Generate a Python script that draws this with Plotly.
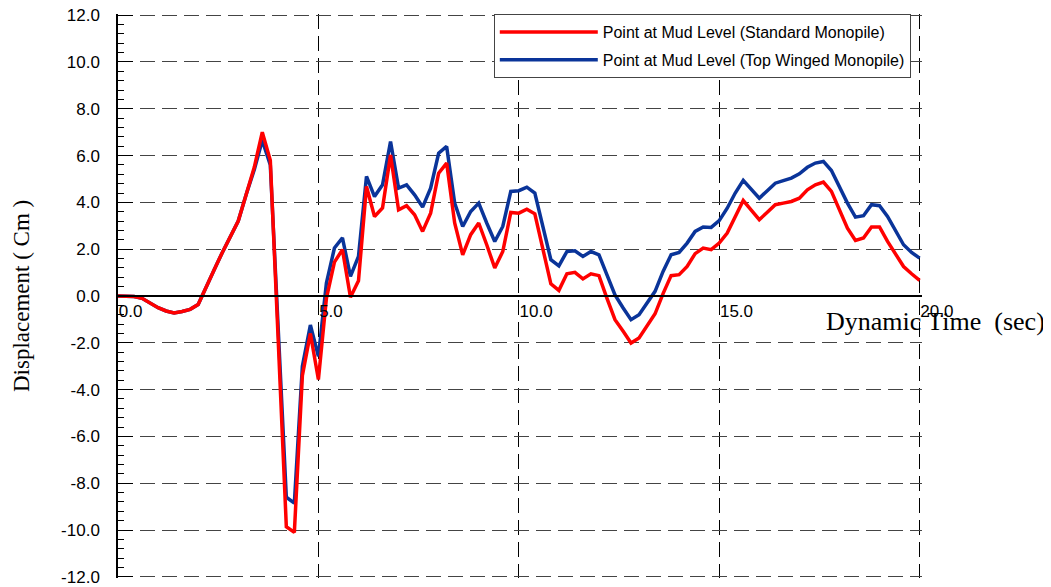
import plotly.graph_objects as go

# ---- data ----
time_s = [0.0, 0.2, 0.4, 0.6, 0.8, 1.0, 1.2, 1.4, 1.6, 1.8,
          2.0, 2.2, 2.4, 2.6, 2.8, 3.0, 3.2, 3.4, 3.6, 3.8,
          4.0, 4.2, 4.4, 4.6, 4.8, 5.0, 5.2, 5.4, 5.6, 5.8,
          6.0, 6.2, 6.4, 6.6, 6.8, 7.0, 7.2, 7.4, 7.6, 7.8,
          8.0, 8.2, 8.4, 8.6, 8.8, 9.0, 9.2, 9.4, 9.6, 9.8,
          10.0, 10.2, 10.4, 10.6, 10.8, 11.0, 11.2, 11.4, 11.6, 11.8,
          12.0, 12.2, 12.4, 12.6, 12.8, 13.0, 13.2, 13.4, 13.6, 13.8,
          14.0, 14.2, 14.4, 14.6, 14.8, 15.0, 15.2, 15.4, 15.6, 15.8,
          16.0, 16.2, 16.4, 16.6, 16.8, 17.0, 17.2, 17.4, 17.6, 17.8,
          18.0, 18.2, 18.4, 18.6, 18.8, 19.0, 19.2, 19.4, 19.6, 19.8,
          20.0]

standard_monopile = [0.00, 0.00, -0.02, -0.10, -0.30, -0.50, -0.64, -0.72, -0.66, -0.57,
                     -0.36, 0.42, 1.12, 1.85, 2.50, 3.20, 4.35, 5.50, 7.00, 5.80,
                     -2.00, -9.86, -10.10, -3.40, -1.60, -3.57, -0.10, 1.45, 1.98, -0.05,
                     0.65, 4.68, 3.40, 3.76, 6.03, 3.68, 3.86, 3.47, 2.76, 3.54,
                     5.25, 5.68, 3.12, 1.76, 2.62, 3.12, 2.19, 1.20, 1.90, 3.57,
                     3.54, 3.71, 3.51, 2.00, 0.52, 0.24, 0.95, 1.01, 0.73, 0.95,
                     0.87, -0.10, -1.01, -1.50, -2.01, -1.79, -1.30, -0.76, 0.10, 0.87,
                     0.91, 1.26, 1.81, 2.05, 1.98, 2.26, 2.69, 3.40, 4.08, 3.67,
                     3.26, 3.58, 3.90, 3.97, 4.04, 4.18, 4.54, 4.75, 4.87, 4.47,
                     3.65, 2.90, 2.37, 2.48, 2.95, 2.95, 2.33, 1.80, 1.26, 0.95,
                     0.67]

top_winged_monopile = [0.00, 0.00, -0.02, -0.10, -0.30, -0.50, -0.64, -0.72, -0.66, -0.57,
                       -0.36, 0.42, 1.12, 1.85, 2.50, 3.20, 4.35, 5.40, 6.65, 5.60,
                       -1.50, -8.60, -8.85, -3.00, -1.24, -2.58, 0.55, 2.05, 2.48, 0.84,
                       1.69, 5.11, 4.25, 4.75, 6.60, 4.61, 4.75, 4.32, 3.80, 4.61,
                       6.10, 6.39, 3.97, 2.97, 3.61, 3.97, 3.12, 2.33, 2.97, 4.47,
                       4.50, 4.65, 4.40, 3.00, 1.55, 1.29, 1.90, 1.93, 1.69, 1.90,
                       1.76, 0.90, 0.05, -0.50, -1.01, -0.80, -0.30, 0.20, 1.05, 1.76,
                       1.86, 2.26, 2.76, 2.95, 2.93, 3.22, 3.75, 4.40, 4.94, 4.56,
                       4.18, 4.50, 4.82, 4.93, 5.04, 5.22, 5.50, 5.68, 5.75, 5.36,
                       4.66, 3.97, 3.37, 3.43, 3.90, 3.86, 3.40, 2.80, 2.19, 1.86,
                       1.62]

x_tick_values = [0, 5, 10, 15, 20]
x_tick_labels = ["0.0", "5.0", "10.0", "15.0", "20.0"]
y_tick_values = [12, 10, 8, 6, 4, 2, 0, -2, -4, -6, -8, -10, -12]
y_tick_labels = ["12.0", "10.0", "8.0", "6.0", "4.0", "2.0", "0.0",
                 "-2.0", "-4.0", "-6.0", "-8.0", "-10.0", "-12.0"]

series_names = ["Point at Mud Level (Standard Monopile)",
                "Point at Mud Level (Top Winged Monopile)"]
x_title = "Dynamic Time  (sec)"
y_title = "Displacement ( Cm )"

RED = "#ff0000"
BLUE = "#0a3499"
SANS = "Liberation Sans, Arial, sans-serif"
SERIF = "Liberation Serif, Times New Roman, serif"

fig = go.Figure()
fig.add_trace(go.Scatter(x=time_s, y=top_winged_monopile, mode="lines",
                         name=series_names[1], line=dict(color=BLUE, width=3.5),
                         legendrank=2, legendgroup="b"))
fig.add_trace(go.Scatter(x=time_s, y=standard_monopile, mode="lines",
                         name=series_names[0], line=dict(color=RED, width=3.5),
                         legendrank=1, legendgroup="a"))

fig.update_layout(
    width=1051, height=587,
    margin=dict(l=110, r=137, t=6, b=17, autoexpand=False),
    plot_bgcolor="white", paper_bgcolor="white",
    showlegend=True,
    legend=dict(x=0.4674, y=1.0, xanchor="left", yanchor="top",
                bgcolor="white", bordercolor="#444444", borderwidth=1,
                font=dict(family=SANS, size=16, color="black"),
                itemwidth=98, traceorder="grouped", tracegroupgap=4),
    xaxis=dict(range=[0, 20.06], tickmode="array", tickvals=x_tick_values,
               ticktext=x_tick_labels, anchor="free", position=0.5,
               showline=True, linecolor="black", linewidth=1.5,
               showgrid=True, gridcolor="black", gridwidth=1, griddash="15px,7px",
               ticks="", ticklabelposition="outside right", zeroline=False,
               ticklabeloverflow="allow",
               tickfont=dict(family=SANS, size=17, color="black")),
    yaxis=dict(range=[-12.05, 12.05], tickmode="array", tickvals=y_tick_values,
               ticktext=y_tick_labels, showline=True, linecolor="black", linewidth=1.5,
               ticks="inside", ticklen=15, tickwidth=1, tickcolor="black",
               minor=dict(dtick=0.4, tick0=0, ticks="inside", ticklen=6,
                          tickcolor="black", tickwidth=1, showgrid=False),
               showgrid=True, gridcolor="#444444", gridwidth=1, griddash="15px,7px",
               zeroline=False, ticklabelstandoff=13, ticklabeloverflow="allow",
               tickfont=dict(family=SANS, size=17, color="black")),
    annotations=[
        dict(text=y_title, xref="paper", yref="paper", x=-0.1206, y=0.5,
             xanchor="center", yanchor="middle", textangle=-90, showarrow=False,
             font=dict(family=SERIF, size=23, color="black")),
        dict(text=x_title, xref="paper", yref="paper", x=1.1555, y=0.454,
             xanchor="right", yanchor="middle", showarrow=False,
             font=dict(family=SERIF, size=26, color="black")),
    ],
)

fig.write_html("out.html")
